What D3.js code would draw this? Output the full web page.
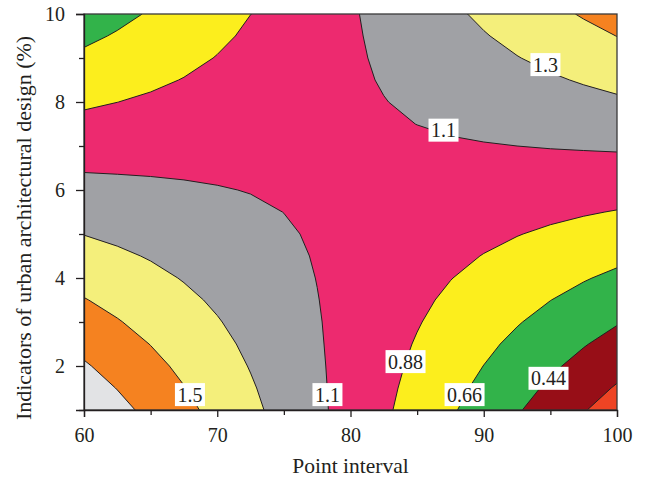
<!DOCTYPE html>
<html>
<head>
<meta charset="utf-8">
<script src="https://cdn.jsdelivr.net/npm/d3@7"></script>
<style>
  html, body { margin: 0; padding: 0; background: #fff; }
  svg { display: block; }
  text { font-family: "Liberation Serif", "DejaVu Serif", serif; fill: #231f20; }
</style>
</head>
<body>
<svg id="chart" width="648" height="481"></svg>
<script>
// ---- data ----
const xGrid = [60, 62.5, 65, 67.5, 70, 72.5, 75, 77.5, 80, 82.5, 85, 87.5, 90, 92.5, 95, 97.5, 100];
const yGrid = [1, 1.5, 2, 2.5, 3, 3.5, 4, 4.5, 5, 5.5, 6, 6.5, 7, 7.5, 8, 8.5, 9, 9.5, 10];
// response values, one row per y (bottom to top), one column per x
const zRows = [
  [1.936, 1.821, 1.707, 1.593, 1.479, 1.366, 1.252, 1.138, 1.025, 0.911, 0.798, 0.684, 0.571, 0.458, 0.345, 0.232, 0.119],
  [1.858, 1.754, 1.650, 1.546, 1.442, 1.339, 1.235, 1.131, 1.028, 0.924, 0.821, 0.718, 0.614, 0.511, 0.408, 0.305, 0.202],
  [1.781, 1.687, 1.593, 1.499, 1.405, 1.311, 1.218, 1.124, 1.031, 0.937, 0.844, 0.751, 0.658, 0.565, 0.472, 0.379, 0.286],
  [1.703, 1.619, 1.536, 1.452, 1.368, 1.284, 1.201, 1.117, 1.034, 0.951, 0.867, 0.784, 0.701, 0.618, 0.535, 0.452, 0.370],
  [1.626, 1.552, 1.478, 1.405, 1.331, 1.257, 1.184, 1.111, 1.037, 0.964, 0.891, 0.818, 0.745, 0.672, 0.599, 0.526, 0.453],
  [1.549, 1.485, 1.421, 1.357, 1.294, 1.230, 1.167, 1.104, 1.040, 0.977, 0.914, 0.851, 0.788, 0.725, 0.662, 0.600, 0.537],
  [1.471, 1.417, 1.364, 1.310, 1.257, 1.203, 1.150, 1.097, 1.044, 0.990, 0.937, 0.884, 0.832, 0.779, 0.726, 0.673, 0.621],
  [1.394, 1.350, 1.307, 1.263, 1.220, 1.176, 1.133, 1.090, 1.047, 1.004, 0.961, 0.918, 0.875, 0.832, 0.790, 0.747, 0.705],
  [1.316, 1.283, 1.249, 1.216, 1.183, 1.149, 1.116, 1.083, 1.050, 1.017, 0.984, 0.951, 0.918, 0.886, 0.853, 0.821, 0.788],
  [1.239, 1.216, 1.192, 1.169, 1.145, 1.122, 1.099, 1.076, 1.053, 1.030, 1.007, 0.985, 0.962, 0.939, 0.917, 0.894, 0.872],
  [1.162, 1.148, 1.135, 1.122, 1.108, 1.095, 1.082, 1.069, 1.056, 1.043, 1.031, 1.018, 1.005, 0.993, 0.980, 0.968, 0.956],
  [1.084, 1.081, 1.078, 1.074, 1.071, 1.068, 1.065, 1.062, 1.059, 1.057, 1.054, 1.051, 1.049, 1.046, 1.044, 1.042, 1.039],
  [1.007, 1.014, 1.020, 1.027, 1.034, 1.041, 1.048, 1.055, 1.063, 1.070, 1.077, 1.085, 1.092, 1.100, 1.108, 1.115, 1.123],
  [0.929, 0.946, 0.963, 0.980, 0.997, 1.014, 1.031, 1.048, 1.066, 1.083, 1.101, 1.118, 1.136, 1.153, 1.171, 1.189, 1.207],
  [0.852, 0.879, 0.906, 0.933, 0.960, 0.987, 1.014, 1.042, 1.069, 1.096, 1.124, 1.151, 1.179, 1.207, 1.235, 1.263, 1.291],
  [0.775, 0.812, 0.849, 0.886, 0.923, 0.960, 0.997, 1.035, 1.072, 1.110, 1.147, 1.185, 1.223, 1.260, 1.298, 1.336, 1.374],
  [0.697, 0.744, 0.791, 0.838, 0.886, 0.933, 0.980, 1.028, 1.075, 1.123, 1.170, 1.218, 1.266, 1.314, 1.362, 1.410, 1.458],
  [0.620, 0.677, 0.734, 0.791, 0.849, 0.906, 0.963, 1.021, 1.078, 1.136, 1.194, 1.252, 1.309, 1.367, 1.426, 1.484, 1.542],
  [0.543, 0.610, 0.677, 0.744, 0.811, 0.879, 0.946, 1.014, 1.082, 1.149, 1.217, 1.285, 1.353, 1.421, 1.489, 1.557, 1.626]
];
const levels = [0.22, 0.44, 0.66, 0.88, 1.10, 1.32, 1.54, 1.76];
const bandColors = ["#ee4424", "#970e17", "#32b34a", "#fcee1d", "#ed2a6f", "#a0a1a5", "#f4ef7b", "#f58220", "#e2e3e5"];
const xTicks = [60, 70, 80, 90, 100];
const xMinorTicks = [65, 75, 85, 95];
const yTicks = [2, 4, 6, 8, 10];
const yMinorTicks = [1, 3, 5, 7, 9];
const labelText = ["1.5", "1.1", "0.88", "0.66", "0.44", "1.3", "1.1"];
const labelX = [67.95, 78.27, 84.13, 88.56, 94.86, 94.63, 86.98];
const labelY = [1.35, 1.35, 2.10, 1.35, 1.72, 8.85, 7.36];
const xTitle = "Point interval";
const yTitle = "Indicators of urban architectural design (%)";

// ---- layout ----
const svg = d3.select("#chart");
const pLeft = 84, pRight = 617, pTop = 14, pBottom = 410;
const x = d3.scaleLinear().domain([60, 100]).range([pLeft, pRight]);
const y = d3.scaleLinear().domain([1, 10]).range([pBottom, pTop]);

svg.append("defs").append("clipPath").attr("id", "plotclip")
  .append("rect").attr("x", pLeft).attr("y", pTop).attr("width", pRight - pLeft).attr("height", pBottom - pTop);

const plot = svg.append("g").attr("clip-path", "url(#plotclip)");

// base (lowest band)
plot.append("rect").attr("x", pLeft).attr("y", pTop).attr("width", pRight - pLeft).attr("height", pBottom - pTop)
  .attr("fill", bandColors[0]);

const nx = xGrid.length, ny = yGrid.length;
const values = zRows.flat();
const dxg = xGrid[1] - xGrid[0], dyg = yGrid[1] - yGrid[0];
const proj = d3.geoTransform({
  point: function(gx, gy) {
    this.stream.point(x(xGrid[0] + (gx - 0.5) * dxg), y(yGrid[0] + (gy - 0.5) * dyg));
  }
});
const path = d3.geoPath(proj);
const contours = d3.contours().size([nx, ny]).thresholds(levels)(values);

plot.selectAll("path.band").data(contours).join("path")
  .attr("class", "band")
  .attr("d", path)
  .attr("fill", (d, i) => bandColors[i + 1])
  .attr("stroke", "none");

plot.selectAll("path.line").data(contours).join("path")
  .attr("class", "line")
  .attr("d", path)
  .attr("fill", "none")
  .attr("stroke", "#231f20")
  .attr("stroke-width", 1);

// contour labels
const lab = svg.append("g");
labelText.forEach((t, i) => {
  const g = lab.append("g").attr("transform", `translate(${x(labelX[i])},${y(labelY[i])})`);
  const r = g.append("rect").attr("fill", "#fff");
  const tx = g.append("text").attr("text-anchor", "middle").attr("y", 7).attr("font-size", 20).text(t);
  const w = tx.node().getComputedTextLength() + 5;
  r.attr("x", -w / 2).attr("y", -11.5).attr("width", w).attr("height", 23);
});

// frame
svg.append("rect").attr("x", pLeft).attr("y", pTop).attr("width", pRight - pLeft).attr("height", pBottom - pTop)
  .attr("fill", "none").attr("stroke", "#3a3a3a").attr("stroke-width", 1.3);

// axes
svg.append("g").attr("transform", `translate(0,${pBottom})`)
  .call(d3.axisBottom(x).tickValues(xTicks).tickSize(7).tickPadding(11).tickFormat(d3.format("d")));
svg.append("g").attr("transform", `translate(0,${pBottom})`)
  .call(d3.axisBottom(x).tickValues(xMinorTicks).tickSize(5).tickFormat(""))
  .call(g => g.select(".domain").remove());
svg.append("g").attr("transform", `translate(${pLeft},0)`)
  .call(d3.axisLeft(y).tickValues(yTicks).tickSize(8).tickPadding(11).tickFormat(d3.format("d")));
svg.append("g").attr("transform", `translate(${pLeft},0)`)
  .call(d3.axisLeft(y).tickValues(yMinorTicks).tickSize(5).tickFormat(""))
  .call(g => g.select(".domain").remove());

svg.selectAll(".tick text").attr("font-size", 20).attr("font-family", "Liberation Serif, DejaVu Serif, serif").attr("fill", "#231f20");
svg.selectAll(".tick line").attr("stroke", "#231f20").attr("stroke-width", 1.3);
svg.selectAll(".domain").attr("stroke", "#231f20").attr("stroke-width", 1.3);

// titles
svg.append("text").attr("x", (pLeft + pRight) / 2).attr("y", 473).attr("text-anchor", "middle")
  .attr("font-size", 21.5).text(xTitle);
svg.append("text").attr("transform", "translate(31,228) rotate(-90)").attr("text-anchor", "middle")
  .attr("font-size", 22).text(yTitle);
</script>
</body>
</html>
